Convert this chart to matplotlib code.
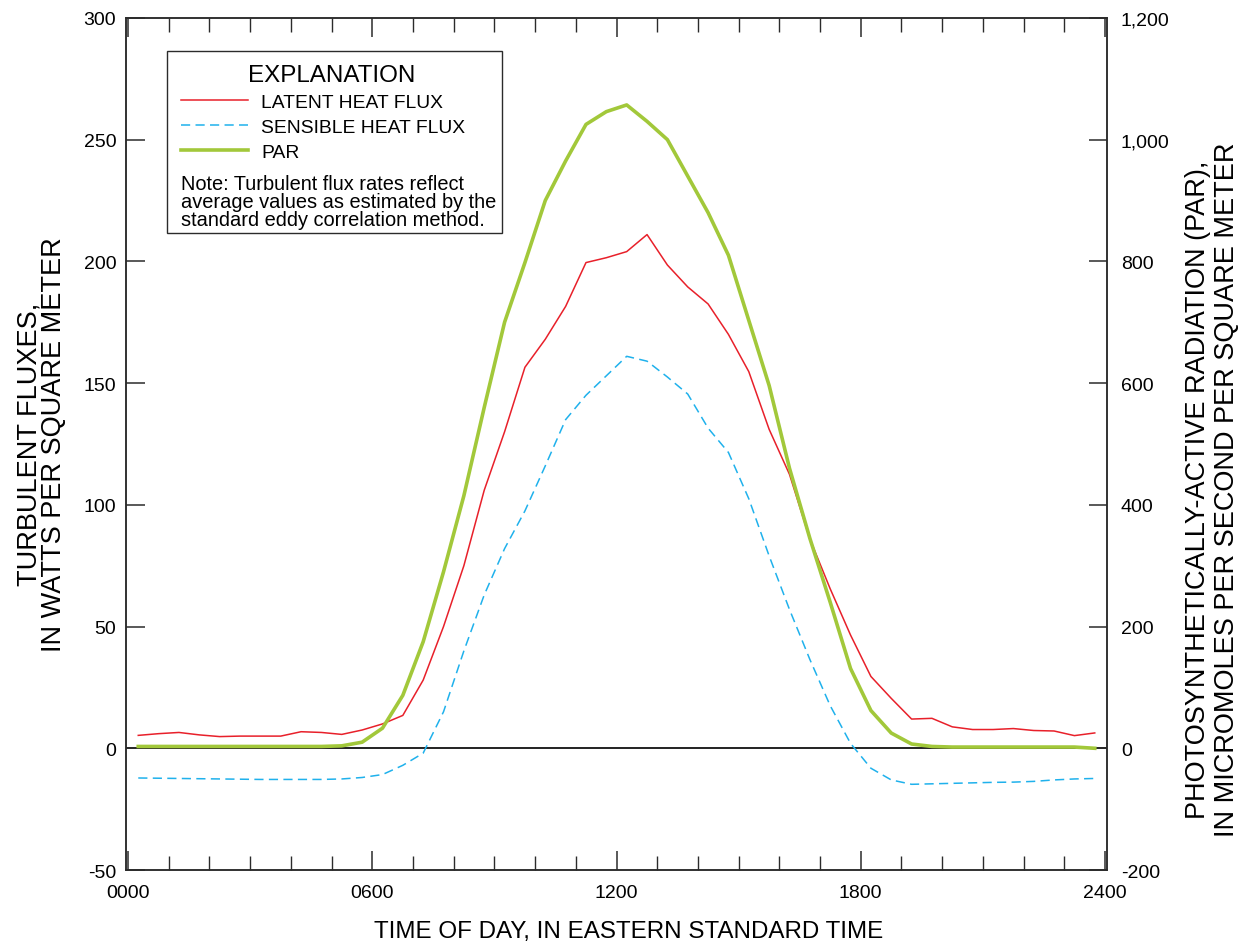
import numpy as np
import matplotlib
matplotlib.use("Agg")
import matplotlib.pyplot as plt
from matplotlib.patches import Rectangle
from matplotlib.ticker import FuncFormatter, MultipleLocator

plt.rcParams["font.family"] = ["Liberation Sans", "DejaVu Sans"]
plt.rcParams["axes.unicode_minus"] = False

# half-hourly averages, centred on :15 and :45 past each hour
hours = np.arange(0.25, 24.0, 0.5)

latent = [5.3, 6.0, 6.5, 5.5, 4.8, 5.0, 5.0, 5.0, 6.8, 6.5, 5.7, 7.5,
          10.0, 13.5, 28.0, 50.0, 75.0, 106.0, 130.0, 156.5, 168.0, 181.5, 199.5, 201.5,
          204.0, 211.0, 198.5, 189.5, 182.5, 170.0, 154.7, 131.0, 112.5, 86.0, 65.5, 46.5,
          29.5, 20.5, 12.0, 12.3, 8.8, 7.7, 7.7, 8.1, 7.3, 7.1, 5.2, 6.3]

sensible = [-12.2, -12.3, -12.4, -12.5, -12.6, -12.7, -12.8, -12.8, -12.8, -12.8, -12.6, -12.0,
            -10.8, -7.0, -2.0, 15.0, 40.0, 63.0, 82.0, 97.5, 116.0, 135.0, 145.0, 153.0,
            161.0, 159.0, 152.5, 145.5, 131.5, 121.5, 102.5, 79.0, 57.0, 36.5, 17.5, 2.0,
            -8.2, -13.0, -14.8, -14.6, -14.4, -14.2, -14.0, -13.9, -13.6, -13.0, -12.6, -12.4]

par = [3, 3, 3, 3, 3, 3, 3, 3, 3, 3, 4, 10,
       33, 87, 175, 290, 415, 560, 700, 798, 900, 965, 1025, 1046,
       1057, 1030, 1000, 940, 880, 810, 703, 596, 460, 345, 240, 131,
       62, 25, 7, 3, 2, 2, 2, 2, 2, 2, 2, 0]

xticks = [0, 6, 12, 18, 24]
xticklabels = ["0000", "0600", "1200", "1800", "2400"]

red = "#e8202a"
blue = "#1fb1ec"
green = "#a2c83a"
spine_col = "#2b2b2b"

fig = plt.figure(figsize=(12.48, 9.45), dpi=100)
ax = fig.add_axes([0.101, 0.0783, 0.786, 0.9017])
ax2 = ax.twinx()

ax.axhline(0, color="#111111", lw=1.3, zorder=1)
l1, = ax.plot(hours, latent, color=red, lw=1.1, zorder=3)
l2, = ax.plot(hours, sensible, color=blue, lw=1.1, dashes=(6, 3.5), zorder=3)
l3, = ax2.plot(hours, par, color=green, lw=2.6, zorder=3)

ax.set_xlim(-0.05, 24.05)
ax.set_ylim(-50, 300)
ax2.set_ylim(-200, 1200)

ax.set_xticks(xticks)
ax.set_xticklabels(xticklabels)
ax.xaxis.set_minor_locator(MultipleLocator(1))
ax.yaxis.set_major_locator(MultipleLocator(50))
ax2.yaxis.set_major_locator(MultipleLocator(200))
ax2.yaxis.set_major_formatter(FuncFormatter(lambda v, p: f"{int(v):,}"))

ax.tick_params(axis="x", which="major", direction="in", length=14, width=1.1,
               top=True, color=spine_col, labelsize=14, pad=10)
ax.tick_params(axis="x", which="minor", direction="in", length=10, width=1.0,
               top=True, color=spine_col)
ax.tick_params(axis="y", direction="in", length=14, width=1.1, color=spine_col,
               labelsize=14, pad=7)
ax2.tick_params(axis="y", direction="in", length=13, width=1.1, color=spine_col,
                labelsize=14, pad=10)

for a in (ax, ax2):
    for s in a.spines.values():
        s.set_color(spine_col)
        s.set_linewidth(1.1)

# axis titles
fig.text(0.5036, 0.0138, "TIME OF DAY, IN EASTERN STANDARD TIME", fontsize=17.4,
         ha="center", va="center")
fig.text(0.0335, 0.53, "TURBULENT FLUXES,\nIN WATTS PER SQUARE METER",
         fontsize=19.5, rotation=90, ha="center", va="center",
         multialignment="center", linespacing=0.9)
fig.text(0.9715, 0.482, "PHOTOSYNTHETICALLY-ACTIVE RADIATION (PAR),\n"
         "IN MICROMOLES PER SECOND PER SQUARE METER",
         fontsize=19.5, rotation=90, ha="center", va="center",
         multialignment="center", linespacing=1.15)

# explanation box
ax.add_patch(Rectangle((0.0418, 0.748), 0.3415, 0.213, transform=ax.transAxes,
                       fill=True, facecolor="white", edgecolor=spine_col, lw=1.0,
                       zorder=5))
ax.text(0.21, 0.933, "EXPLANATION", transform=ax.transAxes, fontsize=17.4,
        ha="center", va="center", zorder=7)
leg = ax.legend([l1, l2, l3], ["LATENT HEAT FLUX", "SENSIBLE HEAT FLUX", "PAR"],
                loc="upper left", bbox_to_anchor=(0.056, 0.911), frameon=False,
                fontsize=13.9, handlelength=3.47, handletextpad=0.67,
                labelspacing=0.38, borderaxespad=0, borderpad=0)
leg.set_zorder(6)
ax.text(0.056, 0.785,
        "Note: Turbulent flux rates reflect\n"
        "average values as estimated by the\n"
        "standard eddy correlation method.",
        transform=ax.transAxes, fontsize=14.4, va="center", ha="left",
        linespacing=0.93, zorder=7)

ax2.set_zorder(ax.get_zorder() + 1)
ax2.patch.set_visible(False)

fig.savefig("out.png", dpi=100)
